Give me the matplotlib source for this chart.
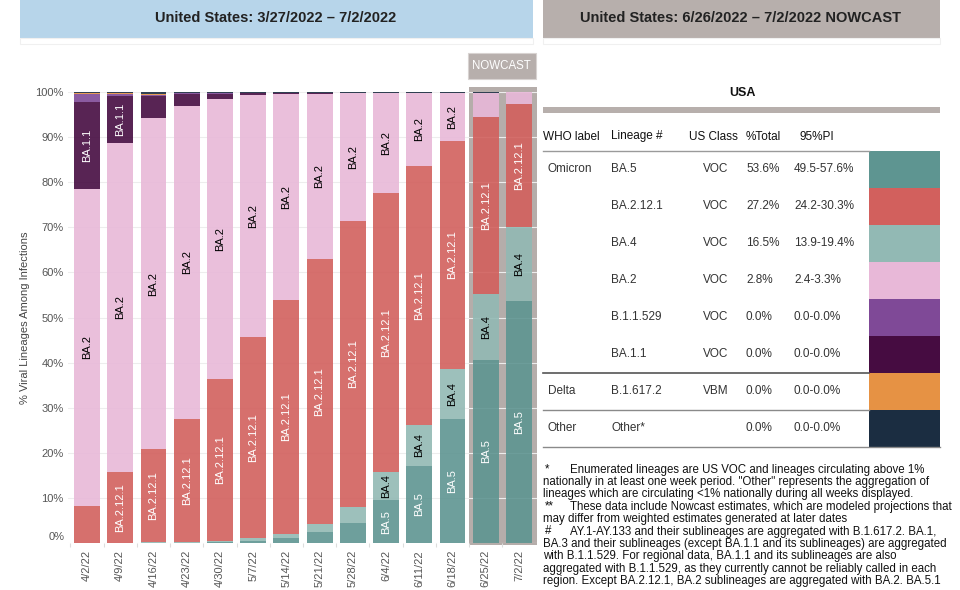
import matplotlib
matplotlib.use("Agg")
import matplotlib.pyplot as plt
from matplotlib.patches import Rectangle
import numpy as np

plt.rcParams['font.family'] = ['Liberation Sans', 'DejaVu Sans']

# ---------------- data ----------------
weeks = ["4/2/22", "4/9/22", "4/16/22", "4/23/22", "4/30/22", "5/7/22", "5/14/22",
         "5/21/22", "5/28/22", "6/4/22", "6/11/22", "6/18/22", "6/25/22", "7/2/22"]
lineages = ["BA.5", "BA.4", "BA.2.12.1", "BA.2", "BA.1.1", "B.1.1.529", "B.1.617.2", "Other"]
ba5     = [0.0, 0.0, 0.1, 0.1, 0.2, 0.5, 1.0, 2.4, 4.5, 9.5, 17.1, 27.5, 40.6, 53.6]
ba4     = [0.0, 0.0, 0.1, 0.2, 0.3, 0.5, 1.0, 1.8, 3.5, 6.2, 9.1, 11.1, 14.6, 16.5]
ba2121  = [8.3, 15.7, 20.6, 27.2, 35.9, 44.7, 51.9, 58.8, 63.4, 61.9, 57.4, 50.5, 39.3, 27.2]
ba2     = [70.2, 73.1, 73.4, 69.5, 62.0, 53.6, 45.7, 36.6, 28.4, 22.2, 16.2, 10.7, 5.3, 2.6]
ba11    = [19.3, 10.3, 4.9, 2.5, 1.2, 0.4, 0.1, 0.1, 0.0, 0.0, 0.0, 0.0, 0.0, 0.0]
b11529  = [1.8, 0.5, 0.3, 0.2, 0.2, 0.1, 0.1, 0.0, 0.0, 0.0, 0.0, 0.0, 0.0, 0.0]
delta   = [0.1, 0.1, 0.1, 0.1, 0.0, 0.0, 0.0, 0.0, 0.0, 0.0, 0.0, 0.0, 0.0, 0.0]
other   = [0.3, 0.3, 0.5, 0.2, 0.2, 0.2, 0.2, 0.3, 0.2, 0.2, 0.2, 0.2, 0.2, 0.1]
series = [ba5, ba4, ba2121, ba2, ba11, b11529, delta, other]
colors = ["#5E9591", "#92B9B4", "#D2605D", "#E8B8D8", "#460C41", "#7F4997", "#E69244", "#1B2D41"]
label_colors = ["white", "black", "white", "black", "white", "white", "white", "white"]
yticks = [0, 10, 20, 30, 40, 50, 60, 70, 80, 90, 100]

# table data
tbl_who = ["Omicron", "", "", "", "", "", "Delta", "Other"]
tbl_lin = ["BA.5", "BA.2.12.1", "BA.4", "BA.2", "B.1.1.529", "BA.1.1", "B.1.617.2", "Other*"]
tbl_cls = ["VOC", "VOC", "VOC", "VOC", "VOC", "VOC", "VBM", ""]
tbl_pct = ["53.6%", "27.2%", "16.5%", "2.8%", "0.0%", "0.0%", "0.0%", "0.0%"]
tbl_pi = ["49.5-57.6%", "24.2-30.3%", "13.9-19.4%", "2.4-3.3%", "0.0-0.0%", "0.0-0.0%",
          "0.0-0.0%", "0.0-0.0%"]
tbl_col = ["#5E9591", "#D2605D", "#92B9B4", "#E8B8D8", "#7F4997", "#460C41", "#E69244", "#1B2D41"]

footnotes = [
    ("*", "Enumerated lineages are US VOC and lineages circulating above 1%"),
    ("", "nationally in at least one week period. \"Other\" represents the aggregation of"),
    ("", "lineages which are circulating <1% nationally during all weeks displayed."),
    ("**", "These data include Nowcast estimates, which are modeled projections that"),
    ("", "may differ from weighted estimates generated at later dates"),
    ("#", "AY.1-AY.133 and their sublineages are aggregated with B.1.617.2. BA.1,"),
    ("", "BA.3 and their sublineages (except BA.1.1 and its sublineages) are aggregated"),
    ("", "with B.1.1.529. For regional data, BA.1.1 and its sublineages are also"),
    ("", "aggregated with B.1.1.529, as they currently cannot be reliably called in each"),
    ("", "region. Except BA.2.12.1, BA.2 sublineages are aggregated with BA.2. BA.5.1"),
]

# ---------------- figure ----------------
W, H = 960, 590
fig = plt.figure(figsize=(9.6, 5.9), dpi=100)
ov = fig.add_axes([0, 0, 1, 1])
ov.set_xlim(0, W)
ov.set_ylim(H, 0)
ov.axis('off')
ov.set_zorder(0)

# header boxes
ov.add_patch(Rectangle((20, 0), 513, 38, facecolor="#B7D5EA", edgecolor="none"))
ov.add_patch(Rectangle((20, 38), 513, 6, facecolor="none", edgecolor="#F0F0F0", lw=0.8))
ov.text(276, 18, "United States: 3/27/2022 \u2013 7/2/2022", ha="center", va="center",
        fontsize=10.5, fontweight="bold", color="#222222")
ov.add_patch(Rectangle((543, 0), 397, 38, facecolor="#B7AFAC", edgecolor="none"))
ov.add_patch(Rectangle((543, 38), 397, 6, facecolor="none", edgecolor="#F0F0F0", lw=0.8))
ov.text(741, 18, "United States: 6/26/2022 \u2013 7/2/2022 NOWCAST", ha="center", va="center",
        fontsize=10.5, fontweight="bold", color="#222222")

# NOWCAST tag
ov.add_patch(Rectangle((468, 52.5), 67.5, 26.5, facecolor="#B7AFAC", edgecolor="#D8D3D1", lw=0.8))
ov.text(501.5, 66, "NOWCAST", ha="center", va="center", fontsize=8.3, color="white")

# ---------------- main bar chart ----------------
ax_l, ax_r, ax_t, ax_b = 68, 537, 92, 543
ax = fig.add_axes([ax_l / W, (H - ax_b) / H, (ax_r - ax_l) / W, (ax_b - ax_t) / H])
ax.set_zorder(1)
ax.patch.set_alpha(0)
x = np.arange(len(weeks))
step = 33.23
ax.set_xlim(-(87 - ax_l) / step, len(weeks) - 1 + (ax_r - 519) / step)
ax.set_ylim(0, 100)

# nowcast background
ax.add_patch(Rectangle((469, 87), 68, 458, facecolor="#B5ADAA", edgecolor="none",
                       transform=ov.transData, zorder=0.5, clip_on=False))

bottom = np.zeros(len(weeks))
for vals, col in zip(series, colors):
    v = np.array(vals)
    ax.bar(x, v, width=0.78, bottom=bottom, color=col, alpha=0.9, zorder=2, linewidth=0)
    bottom = bottom + v

# a label is drawn only where the segment is tall enough to hold it
min_label = {"BA.5": 6.0, "BA.4": 6.0, "BA.2.12.1": 11.5, "BA.2": 6.0, "BA.1.1": 7.5,
             "B.1.1.529": 11.0, "B.1.617.2": 11.0, "Other": 7.0}
bottom = np.zeros(len(weeks))
for name, vals, lc in zip(lineages, series, label_colors):
    v = np.array(vals)
    for i in range(len(weeks)):
        if v[i] >= min_label[name]:
            ax.text(x[i], bottom[i] + v[i] / 2, name, rotation=90, ha="center", va="center",
                    fontsize=8, color=lc, zorder=3)
    bottom = bottom + v

ax.set_yticks(yticks)
ax.set_yticklabels([f"{t}%" if t > 0 else "" for t in yticks])
ax.grid(axis="y", color="#EDEDED", lw=0.8, zorder=0)
ax.set_axisbelow(True)
ax.tick_params(axis="y", length=0, pad=3, labelsize=8, labelcolor="#555555")
ov.text(65, 537, "0%", ha="right", va="center", fontsize=8, color="#555555")
ax.set_xticks(x)
ax.set_xticklabels(weeks, rotation=90)
ax.tick_params(axis="x", which="major", length=0, pad=5, labelsize=8, labelcolor="#555555")
ax.set_xticks(np.arange(-0.5, len(weeks) - 0.5, 1), minor=True)
ax.tick_params(axis="x", which="minor", length=3, color="#DDDDDD", width=0.8)
for s in ["top", "right", "left", "bottom"]:
    ax.spines[s].set_visible(False)
ax.set_ylabel("% Viral Lineages Among Infections", fontsize=8, color="#444444", labelpad=4)

# ---------------- table ----------------
ov.text(742, 93, "USA", ha="center", va="center", fontsize=9, fontweight="bold", color="#111111")
ov.add_patch(Rectangle((543, 107.3), 397, 6, facecolor="#B7AFAC", edgecolor="none"))
hy = 136.5
for tx, lab in [(543, "WHO label"), (611, "Lineage #"), (689, "US Class"),
                (746, "%Total"), (800, "95%PI")]:
    ov.text(tx, hy, lab, ha="left", va="center", fontsize=8.5, color="#111111")
row0, rh = 150.7, 37.0
for i in range(len(tbl_lin)):
    cy = row0 + rh * (i + 0.5)
    ov.text(548, cy, tbl_who[i], ha="left", va="center", fontsize=8.5, color="#333333")
    ov.text(611, cy, tbl_lin[i], ha="left", va="center", fontsize=8.5, color="#333333")
    ov.text(703, cy, tbl_cls[i], ha="left", va="center", fontsize=8.5, color="#333333")
    ov.text(746, cy, tbl_pct[i], ha="left", va="center", fontsize=8.5, color="#333333")
    ov.text(794, cy, tbl_pi[i], ha="left", va="center", fontsize=8.5, color="#333333")
    ov.add_patch(Rectangle((869, row0 + rh * i), 70.5, rh, facecolor=tbl_col[i], edgecolor="none"))
ov.plot([543, 869], [row0, row0], color="#9A9A9A", lw=1.0)
ov.plot([543, 869], [row0 + rh * 6, row0 + rh * 6], color="#555555", lw=1.2)
ov.plot([543, 869], [row0 + rh * 7, row0 + rh * 7], color="#8A8A8A", lw=1.0)
ov.plot([543, 939.5], [row0 + rh * 8, row0 + rh * 8], color="#8A8A8A", lw=1.0)

# ---------------- footnotes ----------------
fy0, fdy = 469.5, 12.4
for i, (mark, line) in enumerate(footnotes):
    yy = fy0 + fdy * i
    if mark:
        ov.text(545, yy, mark, ha="left", va="center", fontsize=8.3, color="#111111")
        ov.text(570, yy, line, ha="left", va="center", fontsize=8.3, color="#111111")
    else:
        ov.text(543, yy, line, ha="left", va="center", fontsize=8.3, color="#111111")

fig.savefig("out.png", dpi=100)
